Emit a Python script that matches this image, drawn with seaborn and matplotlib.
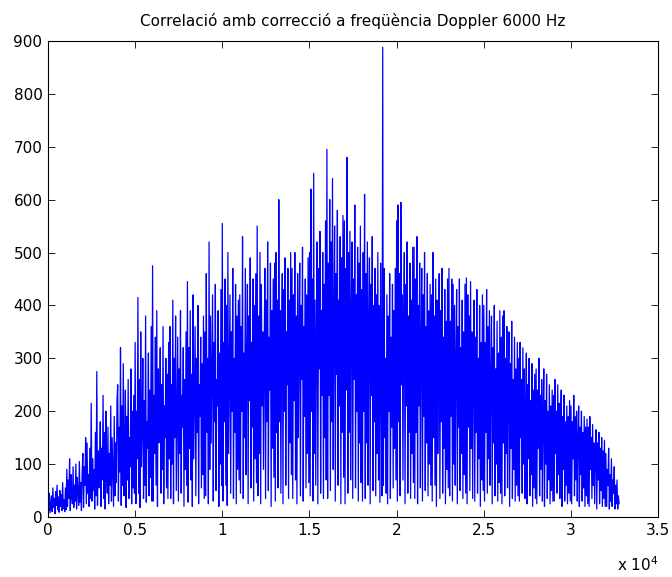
import numpy as np
import pandas as pd
import matplotlib
matplotlib.use("Agg")
import matplotlib.pyplot as plt
import seaborn as sns
from matplotlib.ticker import FuncFormatter, MultipleLocator

# correlation magnitude, one value every 40 lags (25 per 1000 lags)
step = 40
corr_values = [
    30, 12, 45, 8, 25, 40, 10, 55, 18, 35, 6, 48, 22, 60, 14, 38, 9, 50, 20, 42, 12, 65, 16, 33, 10,
    55, 14, 90, 20, 70, 35, 110, 12, 80, 40, 25, 95, 18, 60, 30, 100, 15, 75, 45, 22, 105, 28, 65, 12, 85,
    120, 18, 95, 60, 150, 25, 140, 45, 80, 20, 130, 35, 215, 30, 110, 50, 90, 15, 160, 40, 275, 22, 125, 55, 100,
    180, 20, 130, 70, 230, 35, 160, 15, 200, 90, 45, 170, 25, 120, 60, 210, 30, 150, 80, 20, 190, 40, 140, 65, 220,
    250, 30, 170, 85, 320, 22, 210, 60, 290, 40, 130, 240, 18, 190, 70, 260, 35, 150, 95, 280, 25, 200, 55, 230, 45,
    330, 25, 200, 110, 415, 45, 260, 18, 350, 95, 170, 300, 35, 220, 60, 380, 28, 180, 130, 310, 40, 240, 75, 360, 30,
    475, 30, 230, 120, 340, 60, 390, 20, 280, 140, 200, 320, 45, 250, 90, 360, 25, 210, 150, 300, 55, 270, 35, 330, 110,
    360, 35, 250, 100, 410, 25, 300, 150, 380, 50, 200, 340, 30, 280, 120, 390, 45, 230, 170, 320, 20, 260, 90, 350, 60,
    445, 28, 320, 130, 390, 70, 270, 20, 420, 110, 240, 360, 40, 300, 160, 400, 25, 250, 190, 340, 55, 290, 80, 380, 35,
    350, 40, 460, 160, 300, 25, 520, 90, 380, 140, 270, 420, 30, 330, 180, 440, 50, 260, 210, 390, 20, 310, 100, 430, 60,
    555, 30, 330, 180, 450, 60, 400, 22, 500, 120, 280, 420, 45, 350, 200, 470, 35, 300, 160, 440, 25, 380, 90, 410, 70,
    420, 45, 360, 200, 530, 35, 310, 150, 470, 80, 290, 440, 25, 380, 220, 490, 55, 330, 170, 450, 30, 400, 110, 460, 65,
    550, 40, 380, 120, 500, 25, 440, 210, 350, 90, 300, 470, 35, 410, 180, 520, 50, 340, 240, 480, 20, 390, 130, 450, 75,
    480, 30, 500, 160, 410, 55, 600, 180, 390, 45, 320, 460, 25, 430, 200, 490, 60, 350, 250, 470, 35, 410, 140, 500, 80,
    470, 35, 420, 220, 500, 70, 380, 25, 460, 150, 330, 480, 40, 400, 260, 510, 30, 360, 190, 450, 55, 420, 120, 490, 65,
    500, 40, 620, 200, 450, 30, 650, 120, 410, 60, 350, 520, 25, 470, 280, 540, 45, 390, 230, 500, 35, 440, 150, 560, 70,
    695, 35, 480, 230, 600, 50, 520, 180, 640, 90, 380, 550, 30, 460, 270, 580, 60, 410, 210, 530, 25, 490, 160, 570, 75,
    560, 25, 470, 240, 680, 45, 500, 160, 540, 70, 390, 520, 35, 450, 260, 590, 55, 420, 200, 510, 30, 480, 140, 550, 65,
    430, 30, 500, 200, 610, 35, 460, 140, 520, 60, 370, 490, 25, 440, 230, 530, 50, 400, 180, 470, 40, 420, 120, 500, 70,
    400, 28, 480, 230, 40, 888, 60, 470, 150, 300, 45, 420, 25, 380, 200, 460, 35, 340, 170, 440, 55, 390, 130, 470, 70,
    560, 30, 590, 180, 460, 40, 595, 250, 420, 70, 350, 500, 25, 440, 210, 520, 45, 380, 160, 480, 35, 410, 120, 510, 65,
    510, 35, 450, 160, 530, 25, 400, 210, 480, 55, 340, 470, 30, 420, 190, 500, 50, 360, 140, 460, 40, 390, 100, 440, 60,
    420, 30, 500, 150, 380, 60, 450, 20, 410, 120, 320, 460, 35, 390, 180, 470, 45, 340, 130, 430, 25, 370, 90, 450, 55,
    470, 40, 370, 190, 450, 30, 440, 100, 400, 60, 300, 430, 25, 360, 170, 450, 50, 320, 120, 410, 35, 350, 80, 440, 45,
    452, 25, 420, 170, 380, 50, 445, 130, 350, 35, 290, 410, 30, 340, 160, 430, 45, 300, 110, 400, 20, 330, 70, 420, 50,
    400, 30, 330, 160, 430, 45, 360, 110, 390, 60, 270, 380, 25, 320, 140, 400, 40, 280, 100, 370, 30, 310, 65, 390, 45,
    340, 25, 380, 140, 390, 40, 300, 120, 360, 55, 240, 350, 20, 290, 130, 370, 35, 260, 90, 340, 30, 280, 60, 330, 40,
    300, 30, 330, 150, 260, 45, 320, 100, 280, 35, 210, 310, 25, 250, 110, 300, 40, 220, 80, 290, 20, 240, 55, 270, 35,
    280, 25, 240, 130, 300, 40, 230, 90, 260, 30, 190, 280, 20, 220, 100, 270, 35, 200, 70, 250, 25, 210, 50, 240, 30,
    230, 30, 260, 120, 200, 45, 250, 80, 215, 35, 170, 240, 20, 190, 90, 230, 30, 180, 60, 210, 25, 190, 45, 220, 30,
    210, 25, 180, 110, 230, 40, 190, 70, 200, 30, 150, 210, 20, 170, 80, 200, 30, 160, 55, 190, 20, 170, 40, 185, 25,
    170, 20, 190, 90, 150, 35, 175, 60, 140, 25, 120, 165, 15, 140, 70, 160, 25, 130, 50, 150, 20, 125, 35, 145, 20,
    120, 20, 90, 60, 130, 15, 80, 30, 110, 20, 70, 45, 95, 15, 60, 25, 70, 15, 40, 25,
]
lags = [i * step for i in range(len(corr_values))]

df = pd.DataFrame({"lag": lags, "corr": corr_values})

sns.set_style("ticks")
plt.rcParams["font.family"] = ["DejaVu Sans"]
plt.rcParams["font.size"] = 11
plt.rcParams["text.color"] = "black"

fig = plt.figure(figsize=(6.72, 5.77), dpi=100)
ax = fig.add_axes([0.0714, 0.104, 0.908, 0.825])
sns.lineplot(data=df, x="lag", y="corr", ax=ax, color="#0000ff", linewidth=0.9)

ax.set_xlim(0, 35000)
ax.set_ylim(0, 900)
ax.xaxis.set_major_locator(MultipleLocator(5000))
ax.yaxis.set_major_locator(MultipleLocator(100))
ax.xaxis.set_major_formatter(FuncFormatter(lambda v, p: f"{v / 1e4:g}"))
ax.tick_params(direction="in", top=True, right=True, length=5, width=0.6,
               labelsize=11, colors="black", pad=4)
for s in ax.spines.values():
    s.set_visible(True)
    s.set_linewidth(0.8)
    s.set_color("black")
ax.set_xlabel("")
ax.set_ylabel("")
ax.set_title("Correlació amb correcció a freqüència Doppler 6000 Hz",
             fontsize=11, pad=11, color="black")
ax.text(1.0, -0.113, r"x 10$^{4}$", transform=ax.transAxes, ha="right",
        va="baseline", fontsize=11, color="black")

fig.savefig("out.png", dpi=100)
